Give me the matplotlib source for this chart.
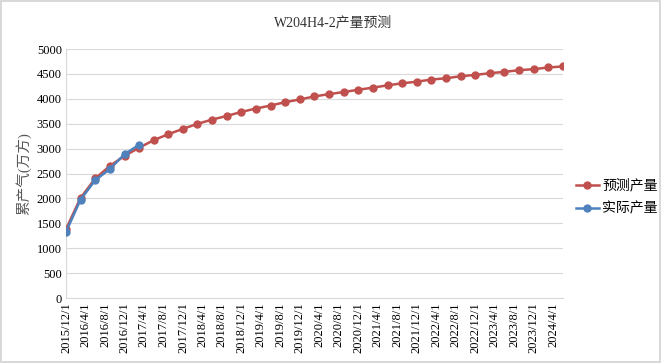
import pandas as pd
import matplotlib
matplotlib.use("Agg")
import matplotlib.pyplot as plt
import matplotlib.dates as mdates

plt.rcParams['font.family'] = ['Liberation Serif', 'DejaVu Serif', 'Noto Sans CJK SC']

# quarterly dates of the forecast, first six also have measured values
dates = pd.date_range("2015-12-01", periods=35, freq="3MS")
pred = [1381, 2010, 2400, 2654, 2855, 3015, 3170, 3290, 3397, 3497,
        3583, 3656, 3737, 3804, 3865, 3933, 3987, 4048, 4095, 4136,
        4183, 4224, 4271, 4311, 4345, 4386, 4413, 4453, 4480, 4514,
        4541, 4575, 4595, 4629, 4650]
actual = [1327, 1975, 2366, 2593, 2888, 3075]

fig = plt.figure(figsize=(6.61, 3.63), dpi=100)
fig.patch.set_edgecolor("#D9D9D9")
fig.patch.set_linewidth(1.5)
ax = fig.add_axes([0.0998, 0.179, 0.752, 0.686])

ax.plot(dates, pred, color="#C0504D", lw=1.8, marker="o", ms=5, label="预测产量", zorder=3)
ax.plot(dates[:len(actual)], actual, color="#4F81BD", lw=1.8, marker="o", ms=5, label="实际产量", zorder=4)

ax.set_ylim(0, 5000)
ax.set_yticks(range(0, 5001, 500))
ax.set_xlim(pd.Timestamp("2015-12-01"), pd.Timestamp("2024-06-01"))
ax.xaxis.set_major_locator(mdates.MonthLocator(bymonth=(4, 8, 12)))
ax.xaxis.set_major_formatter(plt.FuncFormatter(
    lambda v, p: "{0.year}/{0.month}/{0.day}".format(mdates.num2date(v))))
plt.setp(ax.get_xticklabels(), rotation=90)

ax.grid(axis="y", color="#D9D9D9", lw=0.8)
ax.set_axisbelow(True)
for s in ["top", "right"]:
    ax.spines[s].set_visible(False)
for s in ["left", "bottom"]:
    ax.spines[s].set_color("#D9D9D9")
ax.tick_params(length=0, labelsize=9, pad=3)

ax.set_ylabel("累产气(万方)", fontsize=10.5, color="#595959", labelpad=4)
fig.text(0.504, 0.937, "W204H4-2产量预测", ha="center", va="center", fontsize=10, color="#333333")

fig.legend(loc="center left", bbox_to_anchor=(0.853, 0.457), frameon=False,
           fontsize=10, handlelength=1.6, handletextpad=0.25, labelspacing=0.7)

fig.savefig("out.png", dpi=100)
